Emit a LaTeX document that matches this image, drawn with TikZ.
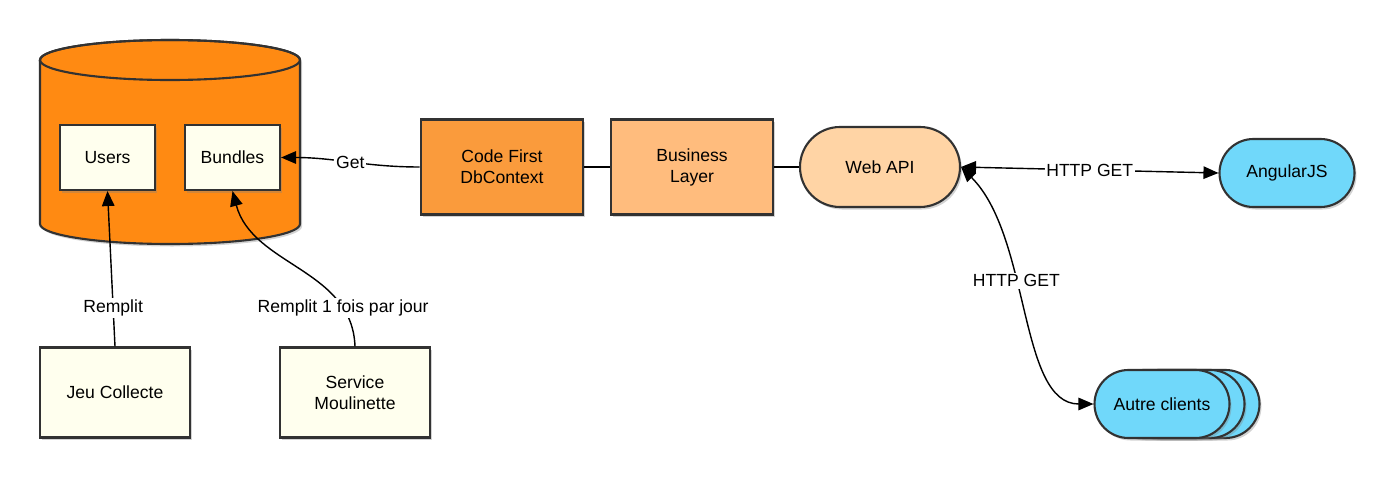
\documentclass[tikz,border=0pt]{standalone}
\usepackage{fontspec}
\setmainfont{Liberation Sans}
\usepackage{xcolor}
\usepackage{tikz}
\usetikzlibrary{arrows.meta,shadows}

\definecolor{dborange}{RGB}{255,138,18}
\definecolor{ctxorange}{RGB}{250,155,60}
\definecolor{bizorange}{RGB}{255,188,125}
\definecolor{apiorange}{RGB}{255,212,165}
\definecolor{clientblue}{RGB}{112,216,250}
\definecolor{boxcream}{RGB}{255,255,238}
\definecolor{edgegray}{RGB}{50,50,50}

\begin{document}
\begin{tikzpicture}[
        font=\fontsize{10}{12}\selectfont,
        shade/.style={drop shadow={opacity=0.35, shadow xshift=0.04cm, shadow yshift=-0.05cm}},
        table/.style={rectangle, draw=edgegray, line width=1.2pt, fill=boxcream, minimum width=1.9cm, minimum height=1.3cm, align=center, shade},
        source/.style={rectangle, draw=edgegray, line width=1.2pt, fill=boxcream, minimum width=3cm, minimum height=1.8cm, align=center, shade},
        layer/.style={rectangle, draw=edgegray, line width=1.2pt, minimum width=3.25cm, minimum height=1.9cm, align=center, shade},
        pill/.style={rectangle, rounded corners=0.68cm, draw=edgegray, line width=1.2pt, fill=clientblue, minimum width=2.7cm, minimum height=1.36cm, align=center, shade},
        lbl/.style={fill=white, inner sep=1pt},
        tip/.tip={Triangle[length=0.3cm, width=0.25cm]},
        arrow/.style={-tip, line width=0.8pt},
        both/.style={tip-tip, line width=0.8pt},
        link/.style={line width=0.8pt}
    ]
        \useasboundingbox (0,0) rectangle (27.9,9.6);

        % database
        \path[fill=dborange, draw=edgegray, line width=1.2pt, shade] (0.8,8.4) -- (0.8,5.12)
            arc[start angle=180, end angle=360, x radius=2.6, y radius=0.4] -- (6.0,8.4)
            arc[start angle=0, end angle=180, x radius=2.6, y radius=0.4] -- cycle;
        \draw[edgegray, line width=1.2pt] (3.4,8.4) ellipse[x radius=2.6, y radius=0.4];

        \node[table] (users) at (2.15,6.45) {Users};
        \node[table] (bundles) at (4.65,6.45) {Bundles};

        \node[layer, fill=ctxorange] (context) at (10.04,6.26) {Code First\\DbContext};
        \node[layer, fill=bizorange] (business) at (13.84,6.26) {Business\\Layer};
        \node[pill, fill=apiorange, minimum width=3.2cm, minimum height=1.6cm, rounded corners=0.8cm] (webapi) at (17.6,6.26) {Web API};
        \node[pill] (angular) at (25.74,6.14) {AngularJS};

        \node[pill] (clients3) at (23.84,1.52) {};
        \node[pill] (clients2) at (23.54,1.52) {};
        \node[pill] (clients) at (23.24,1.52) {Autre clients};

        \node[source] (jeu) at (2.3,1.75) {Jeu Collecte};
        \node[source] (service) at (7.1,1.75) {Service\\Moulinette};

        \draw[arrow] (context.west) to[out=180, in=0] node[lbl] {Get} (bundles.east);
        \draw[link] (context) -- (business);
        \draw[link] (business) -- (webapi);
        \draw[both] (webapi.east) -- node[lbl] {HTTP GET} (angular.west);
        \draw[both] (webapi.east) .. controls +(1.4,-1.4) and +(-1.5,0) .. node[lbl, pos=0.4] {HTTP GET} (clients.west);
        \draw[arrow] (jeu.north) -- node[lbl, pos=0.25] {Remplit} (users.south);
        \draw[arrow] (service.north) to[out=92, in=-75] node[lbl, pos=0.2] {Remplit 1 fois par jour} (bundles.south);
    \end{tikzpicture}
\end{document}
